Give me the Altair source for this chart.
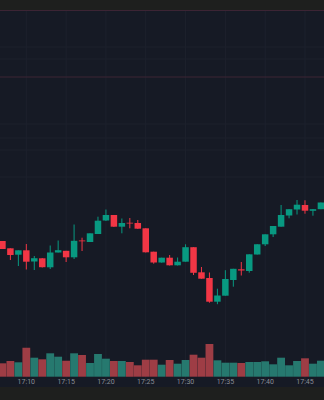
import altair as alt
import pandas as pd

# ---- data (one candle per minute) ----
times = ["17:07", "17:08", "17:09", "17:10", "17:11", "17:12", "17:13", "17:14",
         "17:15", "17:16", "17:17", "17:18", "17:19", "17:20", "17:21", "17:22",
         "17:23", "17:24", "17:25", "17:26", "17:27", "17:28", "17:29", "17:30",
         "17:31", "17:32", "17:33", "17:34", "17:35", "17:36", "17:37", "17:38",
         "17:39", "17:40", "17:41", "17:42", "17:43", "17:44", "17:45", "17:46",
         "17:47"]
opens = [205.90, 205.17, 204.53, 204.97, 203.85, 204.17, 203.27, 204.75,
         204.92, 204.27, 205.95, 205.80, 206.60, 207.95, 208.50, 207.33,
         207.73, 207.70, 207.17, 204.83, 203.75, 204.23, 203.47, 203.83,
         205.28, 202.77, 202.20, 199.83, 200.43, 202.00, 203.07, 202.90,
         204.55, 205.57, 206.57, 207.33, 208.45, 209.05, 209.50, 208.92,
         209.08]
highs = [205.90, 205.17, 204.97, 205.60, 204.40, 204.20, 205.45, 205.95,
         204.92, 207.55, 206.23, 206.67, 208.33, 209.05, 208.50, 208.15,
         208.20, 208.00, 207.17, 204.83, 204.23, 204.50, 204.25, 205.57,
         205.28, 203.30, 202.75, 201.13, 202.98, 203.12, 203.80, 204.57,
         205.58, 206.57, 207.40, 209.50, 209.08, 210.00, 209.97, 209.08,
         209.75]
lows = [205.10, 204.00, 203.40, 203.05, 203.00, 203.25, 203.10, 204.75,
        203.80, 204.10, 204.90, 205.80, 206.60, 207.90, 207.30, 206.67,
        207.17, 207.10, 204.75, 203.63, 203.73, 203.45, 203.45, 203.83,
        202.50, 202.13, 199.73, 199.58, 200.43, 201.33, 202.45, 202.73,
        204.55, 205.40, 206.30, 207.33, 208.17, 208.55, 208.63, 208.43,
        209.08]
closes = [205.10, 204.50, 204.97, 203.83, 204.18, 203.28, 204.75, 204.98,
          204.27, 205.92, 205.87, 206.67, 207.93, 208.50, 207.33, 207.70,
          207.65, 207.13, 204.77, 203.75, 204.23, 203.47, 203.83, 205.28,
          202.72, 202.13, 199.83, 200.45, 202.10, 203.12, 202.95, 204.57,
          205.58, 206.57, 207.40, 208.50, 209.08, 209.53, 208.93, 209.08,
          209.75]
volumes = [134, 157, 144, 290, 190, 174, 234, 200,
           160, 234, 217, 137, 227, 180, 157, 157,
           147, 114, 170, 170, 120, 167, 130, 167,
           220, 190, 327, 164, 140, 140, 137, 147,
           147, 154, 124, 190, 114, 157, 184, 130,
           160]
tick_labels = ["17:10", "17:15", "17:20", "17:25", "17:30", "17:35", "17:40", "17:45"]
grid_prices = [225.3, 224.1, 217.6, 216.2, 215.0, 212.3]
price_lines = [228.95, 222.3]

UP, DOWN = "#089981", "#f23645"
VUP, VDOWN = "#26796f", "#9e3d45"
GRID = "#1d212d"

df = pd.DataFrame({"t": times, "o": opens, "h": highs, "l": lows,
                   "c": closes, "v": volumes})
df["m"] = df["t"].str[3:].astype(int) - 10
df["dir"] = ["up" if c >= o else "down" for o, c in zip(df["o"], df["c"])]

lab = pd.DataFrame({"lab": tick_labels})
lab["m"] = lab["lab"].str[3:].astype(int) - 10

xscale = alt.Scale(domain=[-2.678, 36.76], nice=False, zero=False)
pscale = alt.Scale(domain=[191.3, 229.0], nice=False, zero=False)
vscale = alt.Scale(domain=[-103, 3667], nice=False, zero=False)

X = alt.X("m:Q", scale=xscale, axis=None)

vgrid = alt.Chart(lab).mark_rule(color=GRID, strokeWidth=1).encode(x=X)

hgrid = alt.Chart(pd.DataFrame({"p": grid_prices})).mark_rule(
    color=GRID, strokeWidth=1).encode(y=alt.Y("p:Q", scale=pscale, axis=None))

plines = alt.Chart(pd.DataFrame({"p": price_lines})).mark_rule(
    color="#3c2434", strokeWidth=1).encode(y=alt.Y("p:Q", scale=pscale, axis=None))

ccolor = alt.Color("dir:N", scale=alt.Scale(domain=["up", "down"], range=[UP, DOWN]),
                   legend=None)

wicks = alt.Chart(df).mark_rule(strokeWidth=1).encode(
    x=X, y=alt.Y("l:Q", scale=pscale, axis=None), y2="h:Q", color=ccolor)

bodies = alt.Chart(df).mark_bar(size=6.5).encode(
    x=X, y=alt.Y("o:Q", scale=pscale, axis=None), y2="c:Q", color=ccolor)

vol = alt.Chart(df).mark_bar(size=7.8).encode(
    x=X,
    y=alt.Y("v:Q", scale=vscale, axis=None),
    y2=alt.datum(0),
    color=alt.Color("dir:N", scale=alt.Scale(domain=["up", "down"], range=[VUP, VDOWN]),
                    legend=None),
)

labels = alt.Chart(lab).mark_text(
    fontSize=7, color="#8a8d96", baseline="middle", align="center",
    font="Roboto").encode(x=X, y=alt.value(371.5), text="lab:N")

price_layer = alt.layer(hgrid, plines, wicks, bodies)

chart = alt.layer(vgrid, vol, price_layer, labels).resolve_scale(
    y="independent", color="independent"
).properties(
    width=324, height=377,
    padding={"top": 10, "bottom": 13, "left": 0, "right": 0},
    autosize=alt.AutoSizeParams(type="none"),
    background="#1e1f1e",
).configure_view(fill="#161a25", stroke=None)

chart.save("out.html", embed_options={"renderer": "svg", "actions": False})
